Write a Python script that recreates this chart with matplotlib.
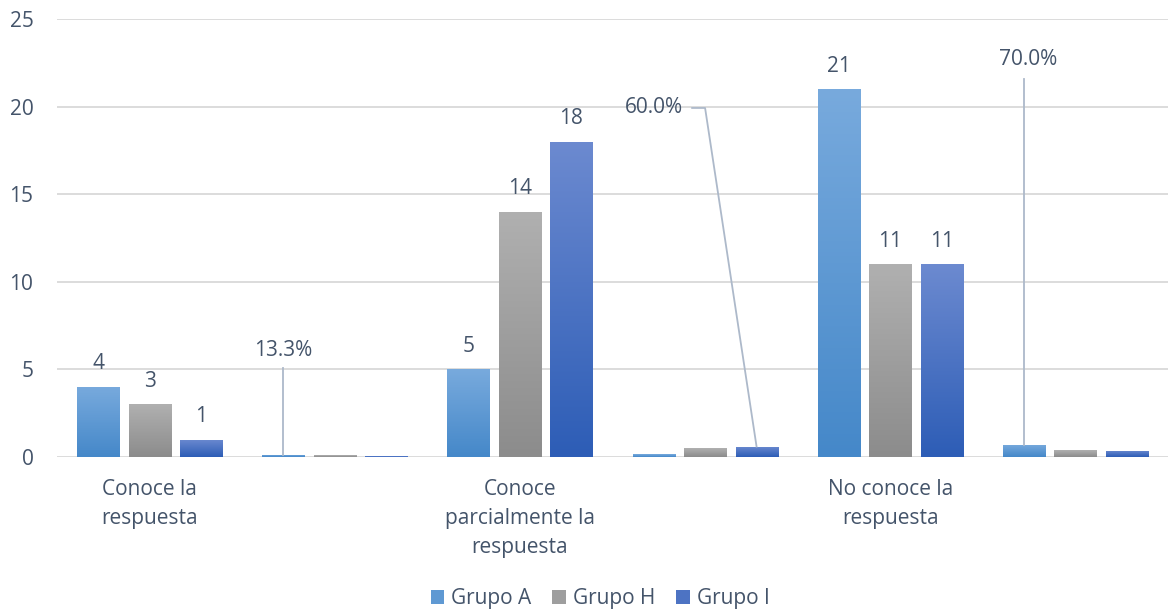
"""Grouped bar chart: answers per group, with share labels."""
import matplotlib
matplotlib.use("Agg")
import matplotlib.pyplot as plt
import numpy as np
from matplotlib.colors import LinearSegmentedColormap
from matplotlib.patches import Patch

plt.rcParams["font.family"] = ["Open Sans", "DejaVu Sans"]

categories = ["Conoce la\nrespuesta", "", "Conoce\nparcialmente la\nrespuesta", "",
              "No conoce la\nrespuesta", ""]
groups = ["Grupo A", "Grupo H", "Grupo I"]
# counts in the labelled categories, shares (0-1) in the blank ones
grupo_a = [4, 0.133, 5, 0.167, 21, 0.700]
grupo_h = [3, 0.107, 14, 0.500, 11, 0.393]
grupo_i = [1, 0.033, 18, 0.600, 11, 0.367]
count_cats = [0, 2, 4]

# light top -> dark bottom
grads = [("#78aadd", "#4588c9"), ("#b0b0b0", "#8c8c8c"), ("#6c8ad0", "#2d5db6")]
TXT = "#44546a"
GRID = "#d9d9d9"
FS = 15

fig = plt.figure(figsize=(11.68, 6.11), dpi=100)
ax = fig.add_axes([0.0488, 0.252, 0.9512, 0.717])

x = np.arange(len(categories))
w, step = 0.227, 0.278
series = [grupo_a, grupo_h, grupo_i]
all_bars = []
for gi, (vals, (top, bot)) in enumerate(zip(series, grads)):
    bars = ax.bar(x + (gi - 1) * step, vals, width=w, color=bot, zorder=3, label=groups[gi])
    cmap = LinearSegmentedColormap.from_list(f"g{gi}", [bot, top])
    for b in bars:
        im = ax.imshow(np.linspace(0, 1, 128).reshape(-1, 1), cmap=cmap, origin="lower",
                       aspect="auto", zorder=4,
                       extent=(b.get_x(), b.get_x() + b.get_width(), 0, b.get_height()))
        im.set_clip_path(b)
    all_bars.append(bars)

# count labels
for gi, bars in enumerate(all_bars):
    for c in count_cats:
        b = bars[c]
        ax.annotate(f"{series[gi][c]:.0f}", (b.get_x() + b.get_width() / 2, b.get_height()),
                    xytext=(0, 9), textcoords="offset points", ha="center", va="bottom",
                    fontsize=FS, color=TXT)

# share labels with leader lines
lc = "#adb9ca"
b = all_bars[0][1]
bx = b.get_x() + b.get_width() / 2
ax.plot([bx, bx], [b.get_height(), 5.08], color=lc, lw=1.3, zorder=5)
ax.text(bx, 6.1, f"{grupo_a[1]:.1%}", ha="center", va="center", fontsize=FS, color=TXT)

b = all_bars[2][3]
bx = b.get_x() + b.get_width() / 2
ax.plot([2.93, 3.0, bx], [19.92, 19.92, b.get_height()], color=lc, lw=1.3, zorder=5)
ax.text(2.88, 19.92, f"{grupo_i[3]:.1%}", ha="right", va="center", fontsize=FS, color=TXT)

b = all_bars[0][5]
bx = b.get_x() + b.get_width() / 2
ax.plot([bx, bx], [b.get_height(), 21.6], color=lc, lw=1.3, zorder=5)
ax.text(bx + 0.02, 22.7, f"{grupo_a[5]:.1%}", ha="center", va="center", fontsize=FS, color=TXT)

ax.set_xlim(-0.5, 5.5)
ax.set_ylim(0, 25)
ax.set_yticks(range(0, 26, 5))
ax.set_xticks(x)
ax.set_xticklabels(categories, fontsize=FS, color=TXT, linespacing=1.5, va="top")
ax.tick_params(axis="x", length=0, pad=16)
ax.tick_params(axis="y", length=0, pad=17, labelsize=FS, labelcolor=TXT)
ax.grid(axis="y", color=GRID, lw=1.3, zorder=0)
for s in ax.spines.values():
    s.set_visible(False)

handles = [Patch(facecolor=(np.array(matplotlib.colors.to_rgb(t)) + matplotlib.colors.to_rgb(bt)) / 2)
           for t, bt in grads]
fig.legend(handles, groups, loc="lower center", bbox_to_anchor=(0.514, -0.028), ncol=3,
           frameon=False, fontsize=FS, handlelength=0.65, handleheight=0.65,
           handletextpad=0.35, columnspacing=1.0, labelcolor=TXT)

fig.savefig("out.png", dpi=100)
